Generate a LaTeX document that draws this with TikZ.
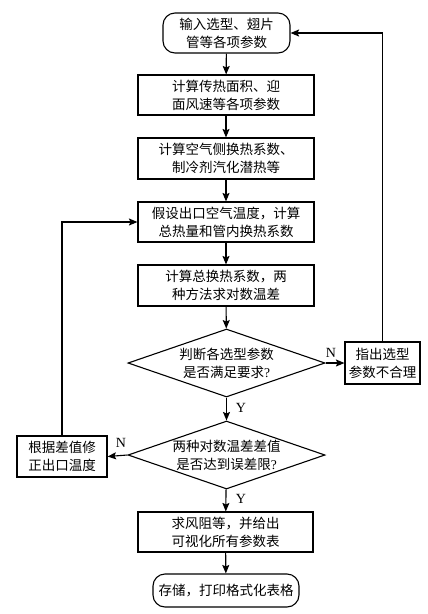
\documentclass[tikz,border=0pt]{standalone}
\usepackage{fontspec}
\setmainfont{Noto Sans CJK SC}
\newfontfamily\lat{Liberation Serif}
\usetikzlibrary{shapes.geometric,arrows.meta}
\begin{document}
\begin{tikzpicture}[x=1pt,y=-1pt,
  every node/.style={font=\fontsize{13.5}{18}\selectfont, align=center, inner sep=0pt},
  proc/.style={draw, line width=1.1pt, minimum height=40pt, minimum width=176pt},
  term/.style={draw, line width=1.1pt, rounded corners=12pt, minimum height=40pt},
  dec/.style={draw, diamond, line width=1.1pt, shape aspect=2.9, minimum width=197pt, minimum height=68pt},
  arr/.style={line width=1.1pt, -{Stealth[length=8.5pt,width=7pt,inset=1.5pt]}},
  lab/.style={font=\lat\fontsize{14}{16}\selectfont}
]
\useasboundingbox (0,0) rectangle (428,614);
\node[term, minimum width=127pt] (b1) at (226.5,33) {输入选型、翅片\\管等各项参数};
\node[proc] (b2) at (226,95) {计算传热面积、迎\\面风速等各项参数};
\node[proc, minimum height=41pt] (b3) at (226,158.5) {计算空气侧换热系数、\\制冷剂汽化潜热等};
\node[proc] (b4) at (226,222) {假设出口空气温度，计算\\总热量和管内换热系数};
\node[proc, minimum height=41pt] (b5) at (226,285.5) {计算总换热系数，两\\种方法求对数温差};
\node[dec] (d1) at (226.5,363) {判断各选型参数\\是否满足要求{\lat ?}};
\node[draw, line width=1.1pt, minimum width=75pt, minimum height=42pt] (r1) at (382.5,363) {指出选型\\参数不合理};
\node[dec] (d2) at (226.5,455) {两种对数温差差值\\是否达到误差限{\lat ?}};
\node[draw, line width=1.1pt, minimum width=90pt, minimum height=41pt] (l1) at (62,456.5) {根据差值修\\正出口温度};
\node[proc, minimum width=175pt] (b6) at (225.5,532) {求风阻等，并给出\\可视化所有参数表};
\node[term, minimum width=146pt, minimum height=33pt] (b7) at (226,590.5) {存储，打印格式化表格};

\draw[arr] (b1) -- (b2);
\draw[arr] (b2) -- (b3);
\draw[arr] (b3) -- (b4);
\draw[arr] (b4) -- (b5);
\draw[arr] (b5) -- (d1);
\draw[arr] (d1) -- (d2);
\draw[arr] (d2) -- (b6);
\draw[arr] (b6) -- (b7);
\draw[arr] (d1.east) -- (r1.west);
\draw[arr] (r1.north) |- (b1.east);
\draw[arr] (d2.west) -- (l1.east);
\draw[arr] (l1.north) |- (b4.west);

\node[lab] (n1) at (331,353) {N};
\node[lab] (y1) at (241,408) {Y};
\node[lab] (n2) at (121,443) {N};
\node[lab] (y2) at (241,499) {Y};
\end{tikzpicture}
\end{document}
